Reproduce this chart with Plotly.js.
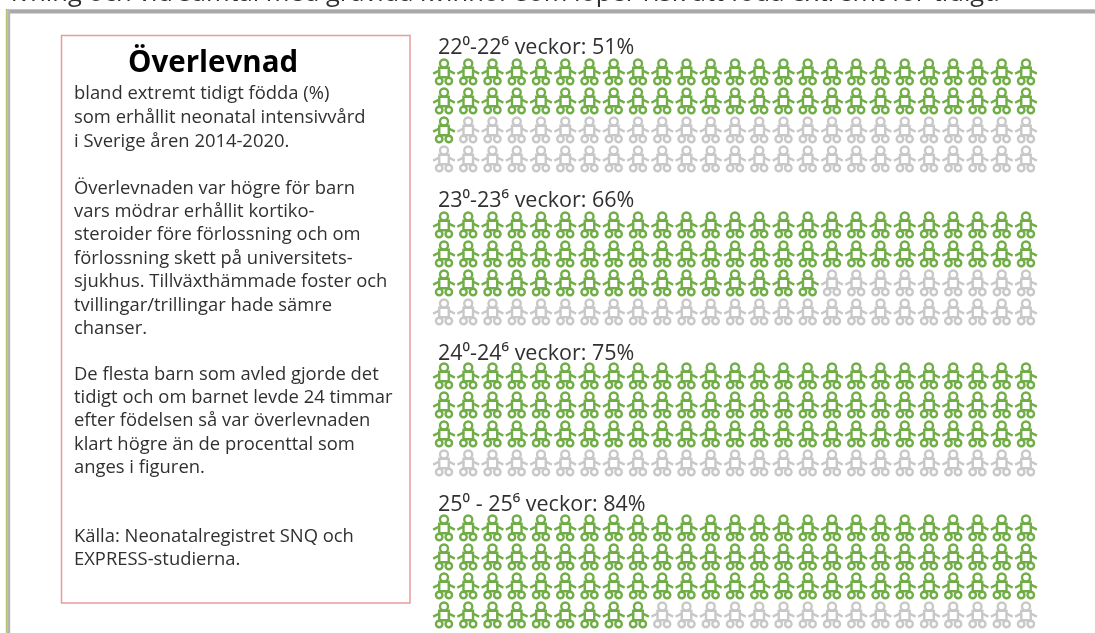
<!DOCTYPE html>
<html><head><meta charset="utf-8">
<script src="https://cdn.plot.ly/plotly-3.0.1.min.js"></script>
<style>html,body{margin:0;padding:0;background:#fff;overflow:hidden}#chart{filter:blur(0.55px)}</style>
</head><body><div id="chart" style="width:1095px;height:633px"></div>
<script>
const groupLabels = ['22⁰-22⁶ veckor: 51%','23⁰-23⁶ veckor: 66%','24⁰-24⁶ veckor: 75%','25⁰ - 25⁶ veckor: 84%'];
const survivalPct = [51,66,75,84];
const labelY = [45,198,351,502];
const firstRowY = [73,226,377,529];
const columns = 25, rows = 4;
const bodyLines = [
 ['bland extremt tidigt födda (%)',91],
 ['som erhållit neonatal intensivvård',115],
 ['i Sverige åren 2014-2020.',139],
 ['Överlevnaden var högre för barn',186],
 ['vars mödrar erhållit kortiko-',209],
 ['steroider före förlossning och om',232],
 ['förlossning skett på universitets-',256],
 ['sjukhus. Tillväxthämmade foster och',279],
 ['tvillingar/trillingar hade sämre',303],
 ['chanser.',326],
 ['De flesta barn som avled gjorde det',372],
 ['tidigt och om barnet levde 24 timmar',395],
 ['efter födelsen så var överlevnaden',418],
 ['klart högre än de procenttal som',442],
 ['anges i figuren.',465],
 ['Källa: Neonatalregistret SNQ och',534],
 ['EXPRESS-studierna.',557]
];
const topLine = 'ivning och vid samtal med gravida kvinnor som löper risk att föda extremt för tidigt.';
const GREEN='#70ad47', GRAY='#c8c8c8', INK='#303030', FONT='"Open Sans", sans-serif';
const X0=444, DX=24.25, DY=29;
// icon built from stacked marker parts: [dx, dy, symbol, size, angle]
const parts = [
 [0,-9.5,'circle-open',8,0],
 [0,-0.5,'square-open',9.5,0],
 [-7.6,-1,'line-ew-open',5.2,-25],
 [7.6,-1,'line-ew-open',5.2,25],
 [-4.8,8,'circle-open',6.5,0],
 [4.8,8,'circle-open',6.5,0]
];
const cx=[],cy=[],col=[];
survivalPct.forEach((p,g)=>{
  for(let i=0;i<columns*rows;i++){
    cx.push(X0+DX*(i%columns));
    cy.push(firstRowY[g]+DY*Math.floor(i/columns));
    col.push(i<p?GREEN:GRAY);
  }
});
const traces = parts.map(([dx,dy,sym,size,ang])=>({
  type:'scatter',mode:'markers',hoverinfo:'skip',showlegend:false,
  x:cx.map(v=>v+dx),y:cy.map(v=>v+dy),
  marker:{symbol:sym,size:size,angle:ang,color:col,line:{color:col,width:2.4}}
}));
const annotations=[];
const txt=(text,x,y,size,extra)=>annotations.push(Object.assign({text,x,y,xref:'x',yref:'y',showarrow:false,xanchor:'left',yanchor:'middle',borderpad:0,font:{family:FONT,size,color:INK}},extra||{}));
bodyLines.forEach(([t,y])=>txt(t,73,y,18.4));
groupLabels.forEach((t,i)=>txt(t,437,labelY[i],21.5));
txt('<b>Överlevnad</b>',213,60,29.5,{xanchor:'center',font:{family:FONT,size:29.5,color:'#000'}});
txt(topLine,1001,9.5,25.5,{xanchor:'right',yanchor:'bottom'});
const shapes=[
 {type:'line',x0:7,x1:1095,y0:9.5,y1:9.5,line:{color:'#c9c98f',width:1}},
 {type:'line',x0:8.5,x1:1095,y0:11.7,y1:11.7,line:{color:'#a9a9a9',width:3.4}},
 {type:'line',x0:6.5,x1:6.5,y0:9,y1:633,line:{color:'#b9c070',width:1.4}},
 {type:'line',x0:8.7,x1:8.7,y0:10,y1:633,line:{color:'#b4b4b4',width:3}},
 {type:'rect',x0:61.5,x1:410,y0:35.5,y1:603,line:{color:'#e69c9c',width:1.5},fillcolor:'rgba(0,0,0,0)'}
];
Plotly.newPlot('chart',traces,{
  width:1095,height:633,margin:{l:0,r:0,t:0,b:0},paper_bgcolor:'#fff',plot_bgcolor:'#fff',
  xaxis:{range:[0,1095],visible:false,fixedrange:true},
  yaxis:{range:[633,0],visible:false,fixedrange:true},
  annotations,shapes,showlegend:false
},{displayModeBar:false,staticPlot:true});
</script></body></html>
